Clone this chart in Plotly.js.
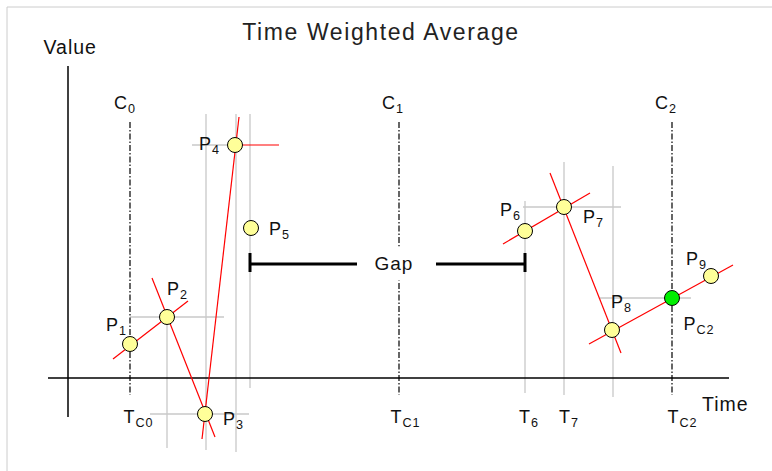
<!DOCTYPE html>
<html>
<head>
<meta charset="utf-8">
<script src="https://cdn.plot.ly/plotly-3.0.1.min.js"></script>
<style>
html,body{margin:0;padding:0;background:#fff;}
#chart{width:772px;height:471px;}
.js-plotly-plot .annotation-text{letter-spacing:1px;}
.js-plotly-plot .gtitle{letter-spacing:1.6px;}
</style>
</head>
<body>
<div id="chart"></div>
<script>
// ---- data (time / value units, origin at the axes crossing) ----
const pointNames  = ['P<sub>1</sub>','P<sub>2</sub>','P<sub>3</sub>','P<sub>4</sub>','P<sub>5</sub>','P<sub>6</sub>','P<sub>7</sub>','P<sub>8</sub>','P<sub>9</sub>'];
const pointTime   = [62, 99, 137, 167, 183, 457, 496, 544, 643];
const pointValue  = [34, 61, -36, 233, 150, 147, 171, 48, 102];

const interpName  = ['P<sub>C2</sub>'];
const interpTime  = [604];
const interpValue = [80];

const cursorNames = ['C<sub>0</sub>','C<sub>1</sub>','C<sub>2</sub>'];
const cursorTime  = [62, 331, 604];
const cursorTop   = 256;
const cursorBottom= -17;

const timeTickNames = ['T<sub>C0</sub>','T<sub>C1</sub>','T<sub>6</sub>','T<sub>7</sub>','T<sub>C2</sub>'];
const timeTickTime  = [62, 331, 457, 496, 604];

// interpolation (red) segments: start/end time and value
const redT0 = [45, 84, 134, 167, 435, 482, 521];
const redV0 = [19, 100, -61, 233, 134, 205, 34];
const redT1 = [120, 147, 171, 211, 522, 553, 665];
const redV1 = [77, -59, 261, 233, 185, 25, 113];

// grey guide segments
const guideT0 = [99, 62, 138, 168, 182, 124, 82, 457, 496, 455, 545, 532];
const guideV0 = [61, 61, 264, 264, 264, 233, -36, 177, 216, 171, 212, 80];
const guideT1 = [99, 156, 138, 168, 182, 167, 181, 457, 496, 553, 545, 623];
const guideV1 = [-70, 61, -72, -74, -10, 233, -36, -15, -17, 171, -19, 80];

// gap bracket
const gapStart = 182, gapEnd = 457, gapValue = 114;

// ---- helpers ----
function segs(t0, v0, t1, v1) {
  const x = [], y = [];
  for (let i = 0; i < t0.length; i++) { x.push(t0[i], t1[i], null); y.push(v0[i], v1[i], null); }
  return {x, y};
}
const guides = segs(guideT0, guideV0, guideT1, guideV1);
const reds = segs(redT0, redV0, redT1, redV1);
const cursors = segs(cursorTime, cursorTime.map(() => cursorTop), cursorTime, cursorTime.map(() => cursorBottom));

const traces = [
  {x: guides.x, y: guides.y, mode: 'lines', line: {color: '#c8c8c8', width: 1.3}, hoverinfo: 'skip'},
  {x: cursors.x, y: cursors.y, mode: 'lines', line: {color: '#000', width: 1.2, dash: '6px,2px,1.5px,2px'}, hoverinfo: 'skip'},
  // axes
  {x: [0, 0, null, -20, 661], y: [312, -39, null, 0, 0], mode: 'lines', line: {color: '#000', width: 1.5}, hoverinfo: 'skip'},
  {x: reds.x, y: reds.y, mode: 'lines', line: {color: '#ff0000', width: 1.2}, hoverinfo: 'skip'},
  // gap bracket
  {x: [gapStart, 289, null, 368, gapEnd, null, gapStart, gapStart, null, gapEnd, gapEnd],
   y: [gapValue, gapValue, null, gapValue, gapValue, null, gapValue + 11, gapValue - 8, null, gapValue + 11, gapValue - 8],
   mode: 'lines', line: {color: '#000', width: 3}, hoverinfo: 'skip'},
  {x: pointTime, y: pointValue, mode: 'markers',
   marker: {size: 15, color: '#ffff99', line: {color: '#000', width: 1}}, hoverinfo: 'skip'},
  {x: interpTime, y: interpValue, mode: 'markers',
   marker: {size: 15, color: '#00ee00', line: {color: '#000', width: 1}}, hoverinfo: 'skip'}
];

const FAM = 'Liberation Sans, Arial, sans-serif';
const labelFont = {family: FAM, size: 18, color: '#111'};
const annotations = [];
// point labels (left edge / vertical centre of the letter)
const pointLabelT = [37, 98, 154, 130, 200, 431, 514, 542, 617];
const pointLabelV = [52, 88, -42, 233, 148, 167, 160, 75, 118];
pointNames.forEach((n, i) => annotations.push({x: pointLabelT[i], y: pointLabelV[i], text: n, showarrow: false, xanchor: 'left', yanchor: 'middle', font: labelFont}));
annotations.push({x: 615, y: 53, text: interpName[0], showarrow: false, xanchor: 'left', yanchor: 'middle', font: labelFont});
const cursorLabelT = [45, 313, 586];
cursorNames.forEach((n, i) => annotations.push({x: cursorLabelT[i], y: 274, text: n, showarrow: false, xanchor: 'left', yanchor: 'middle', font: labelFont}));
const tickLabelT = [55, 322, 450, 490, 599];
timeTickNames.forEach((n, i) => annotations.push({x: tickLabelT[i], y: -40, text: n, showarrow: false, xanchor: 'left', yanchor: 'middle', font: labelFont}));
annotations.push({x: 326, y: 115, text: 'Gap', showarrow: false, xanchor: 'center', yanchor: 'middle', bgcolor: '#fff', borderpad: 6, font: {family: FAM, size: 19, color: '#111'}});
annotations.push({x: 2, y: 331, text: 'Value', showarrow: false, xanchor: 'center', yanchor: 'middle', font: {family: FAM, size: 19.5, color: '#111'}});
annotations.push({x: 657, y: -26, text: 'Time', showarrow: false, xanchor: 'center', yanchor: 'middle', font: {family: FAM, size: 19.5, color: '#111'}});

const layout = {
  width: 772, height: 471,
  margin: {l: 0, r: 0, t: 0, b: 0},
  paper_bgcolor: '#fff', plot_bgcolor: '#fff',
  showlegend: false, hovermode: false,
  title: {text: 'Time Weighted Average', x: 381 / 772, xanchor: 'center', y: 1 - 32 / 471, yanchor: 'middle', yref: 'paper',
          font: {family: FAM, size: 23, color: '#222'}},
  xaxis: {range: [-68, 704], visible: false, fixedrange: true},
  yaxis: {range: [-93, 378], visible: false, fixedrange: true},
  annotations: annotations,
  shapes: [{type: 'rect', xref: 'paper', yref: 'paper', x0: 7 / 772, x1: 1.01, y0: -0.01, y1: 1 - 7 / 471, line: {color: '#cccccc', width: 1}}]
};

Plotly.newPlot('chart', traces, layout, {staticPlot: true, displayModeBar: false});
</script>
</body>
</html>
